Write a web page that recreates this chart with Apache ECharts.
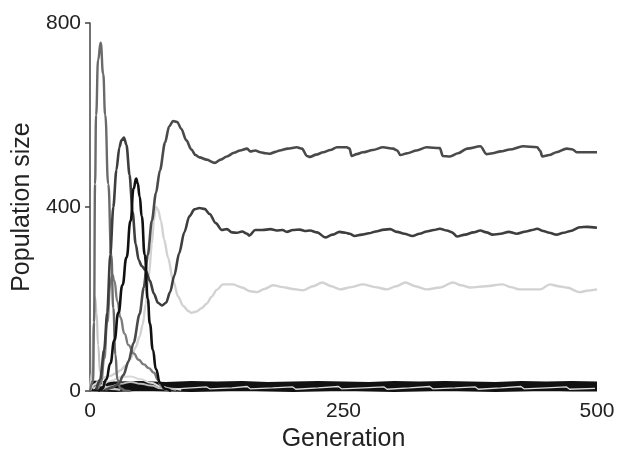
<!DOCTYPE html>
<html><head><meta charset="utf-8">
<script src="https://cdn.jsdelivr.net/npm/echarts@6/dist/echarts.min.js"></script>
<style>html,body{margin:0;padding:0;background:#fff}#c{width:618px;height:457px}</style>
</head><body><div id="c"></div>
<script>
// Axis ticks
const xTicks = [0, 250, 500];
const yTicks = [0, 400, 800];

// Species trajectories: [generation, population size]
const speciesA = [[0,0],[3,20],[4,150],[5,450],[6,600],[8,720],[10.5,757],[13,690],[15,600],[18,450],[21,296],[23,180],[25,80],[27,25],[30,6],[35,1],[40,0]];
const speciesB = [[6,3],[10,25],[14,90],[17,170],[20,296],[23,400],[26,480],[29,530],[31,545],[33.5,551],[36,535],[39,470],[42,390],[45,320],[48,285],[51,272],[55,262],[59,240],[63,212],[67,192],[71,186],[75,192],[79,215],[83,250],[88,300],[93,345],[98,380],[103,395],[108,398],[113,396],[118,385],[124,365],[130,350],[135,352],[140,345],[145,344],[150,347],[155,342],[157,338],[163,350],[170,350],[178,352],[184,349],[190,350],[194,346],[200,350],[207,351],[212,348],[217,349],[224,345],[232,334],[239,340],[246,346],[252,344],[256,342],[261,337],[268,340],[275,343],[282,347],[290,351],[296,352],[303,346],[310,342],[318,337],[325,342],[332,347],[339,350],[345,353],[352,349],[357,345],[362,336],[370,340],[378,345],[385,349],[391,345],[397,340],[405,342],[413,346],[421,342],[430,347],[436,350],[441,353],[447,348],[453,344],[460,340],[467,344],[474,348],[483,356],[490,357],[500,355]];
const speciesC = [[8,0],[12,5],[16,25],[20,60],[24,110],[28,170],[32,230],[36,290],[40,370],[43,440],[45.5,462],[47,452],[49,423],[51,380],[54,296],[57,200],[59,147],[62,90],[65,48],[69,18],[74,5],[80,0]];
const speciesD = [[15,2],[22,8],[28,15],[33,35],[38,65],[43,105],[49,168],[53,225],[57,296],[61,370],[65,430],[69,480],[74,540],[78,575],[82,587],[86,585],[90,570],[95,545],[100,525],[104,513],[108,508],[115,503],[123,496],[129,503],[135,510],[142,518],[148,523],[155,527],[158,521],[163,523],[168,519],[173,517],[177.5,516],[183,520],[187,523],[195,527],[204,530],[209,527],[214,511],[217,509],[223,514],[230,519],[237,524],[243.6,530],[253,530],[256,527],[258,511],[263,515],[269,519],[279,524],[289,530],[299,527],[303,523],[306,513],[313,517],[322,523],[332,530],[345,528],[348,511],[355,510],[363,517],[372,527],[385,532],[391,515],[397,517],[405,521],[414,525],[427,532],[441,530],[444,522],[446,510],[453,513],[460,519],[470,527],[476,525],[480,519],[490,519],[500,519]];
const speciesE = [[0,2],[5,15],[10,25],[15,30],[20,33],[25,38],[30,45],[35,55],[40,70],[45,95],[49,119],[52,145],[55,190],[58,250],[61,320],[63,370],[65,400],[67,395],[70,370],[73,330],[77,290],[82,240],[87,205],[92,185],[97,174],[100,170],[105,173],[110,180],[115,190],[120,205],[125,220],[131,232],[141,232],[150,225],[158,217],[165,215],[172,222],[180.5,230],[190,226],[200,222],[210,219],[220,228],[229,236],[238,228],[246.5,221],[258,226],[269,232],[281,226],[293,221],[302,228],[311,236],[321,228],[332,221],[345,225],[358,236],[366,230],[375,225],[390,228],[407,232],[415,226],[424,221],[434,221],[444,221],[453.6,232],[462,228],[470,225],[483,215],[490,218],[500,221]];
const speciesF = [[8,2],[11,19],[14,70],[17,150],[20,230],[22,253],[24,240],[27,195],[30,160],[34,125],[38,100],[43,82],[48,68],[53,58],[58,50],[63,40],[67,25],[70,12],[75,3],[80,0]];
const speciesG = [[0,5],[2,40],[3.5,150],[5,204],[6.5,170],[8,100],[10,40],[13,15],[16,8],[20,5],[30,3]];
const speciesH = [[3,5],[10,12],[20,22],[30,30],[40,32],[50,26],[60,18],[70,10],[80,5],[90,3]];
const speciesI = [[12,3],[20,10],[30,16],[40,20],[50,16],[60,12],[70,6],[85,3]];

// Rare species near zero
const rareHigh = [[0,18],[25,16],[50,17],[75,15],[100,17],[125,16],[150,17],[175,15],[200,16],[225,17],[250,16],[275,15],[300,17],[325,16],[350,17],[375,16],[400,15],[425,17],[450,16],[475,17],[500,16]];
const rareMid = [[0,10],[25,11],[50,9],[75,10],[100,11],[125,9],[150,10],[175,11],[200,10],[225,9],[250,10],[275,11],[300,10],[325,9],[350,11],[375,10],[400,9],[425,10],[450,11],[475,10],[500,10]];
const rareLow = [[0,4],[25,3],[50,5],[75,4],[100,3],[125,4],[150,5],[175,4],[200,3],[225,4],[250,5],[275,4],[300,3],[325,4],[350,5],[375,4],[400,3],[425,4],[450,5],[475,4],[500,4]];
const rareFleck = [[85,5],[100,7],[115,9],[118,5],[140,7],[155,10],[158,5],[180,7],[200,9],[203,4],[225,7],[245,10],[248,5],[270,7],[290,9],[293,4],[315,7],[335,10],[338,5],[360,7],[380,9],[383,4],[405,7],[425,10],[428,5],[450,7],[470,9],[473,4],[498,6]];

const FONT = "'Liberation Sans', Arial, sans-serif";
function line(data, color, width, smooth, z) {
  return { type: 'line', data: data, showSymbol: false, symbol: 'none', smooth: smooth,
    smoothMonotone: 'x', lineStyle: { color: color, width: width }, z: z, silent: true, animation: false };
}

const chart = echarts.init(document.getElementById('c'), null, { renderer: 'canvas' });
chart.setOption({
  backgroundColor: '#fff',
  animation: false,
  grid: { left: 90, right: 21, top: 23, bottom: 58, containLabel: false },
  xAxis: {
    type: 'value', min: xTicks[0], max: xTicks[2], interval: xTicks[1] - xTicks[0],
    axisLine: { show: false }, axisTick: { show: false }, splitLine: { show: false },
    axisLabel: { fontSize: 21, color: '#222', margin: 10, fontFamily: FONT },
    name: 'Generation', nameLocation: 'middle', nameGap: 28,
    nameTextStyle: { fontSize: 25, color: '#222', fontFamily: FONT }
  },
  yAxis: {
    type: 'value', min: yTicks[0], max: yTicks[2], interval: yTicks[1] - yTicks[0],
    axisLine: { show: true, lineStyle: { color: '#444', width: 1.5 } },
    axisTick: { show: true, length: 5, lineStyle: { color: '#444', width: 1.5 } },
    splitLine: { show: false },
    axisLabel: { fontSize: 21, color: '#222', margin: 9, fontFamily: FONT },
    name: 'Population size', nameLocation: 'middle', nameGap: 52,
    nameTextStyle: { fontSize: 25, color: '#222', fontFamily: FONT }
  },
  series: [
    line(rareHigh, '#111', 4.5, false, 1),
    line(rareMid, '#111', 4.5, false, 1),
    line(rareLow, '#111', 4.5, false, 1),
    line(rareFleck, '#dcdcdc', 1.3, false, 2),
    line(speciesH, '#d8d8d8', 2, true, 3),
    line(speciesI, '#bbbbbb', 2, true, 3),
    line(speciesG, '#c4c4c4', 2.2, true, 3),
    line(speciesE, '#d2d2d2', 2.4, 0.3, 3),
    line(speciesF, '#7c7c7c', 2.4, true, 4),
    line(speciesA, '#6a6a6a', 2.4, true, 4),
    line(speciesD, '#4a4a4a', 2.6, 0.3, 5),
    line(speciesB, '#3e3e3e', 2.6, 0.3, 5),
    line(speciesC, '#111111', 2.6, true, 6)
  ]
});
</script>
</body></html>
